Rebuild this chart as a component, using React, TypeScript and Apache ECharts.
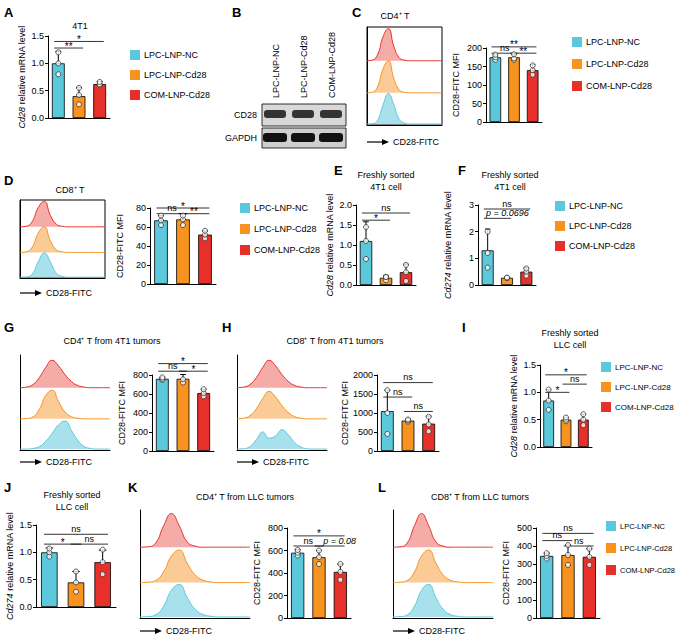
import * as echarts from "echarts";
import { useEffect, useRef } from "react";

const groups = ["LPC-LNP-NC", "LPC-LNP-Cd28", "COM-LNP-Cd28"];
const colors = ["#5cc8dc", "#f7931e", "#e8302a"];
const fills = ["#9fdeea", "#f9c58c", "#f4a3a0"];

// bar panels: means, sd, dots, brackets [from, to, y, label]
const aMeans = [1.0, 0.4, 0.62];
const aSd = [0.22, 0.16, 0.05];
const aDots = [[1.2, 1.0, 0.8], [0.55, 0.42, 0.25], [0.6, 0.62, 0.66]];
const aBrackets: [number, number, number, string][] = [[0, 1, 1.28, "**"], [0, 2, 1.4, "*"]];

const cMeans = [175, 175, 140];
const cSd = [8, 8, 15];
const cDots = [[168, 175, 182], [168, 172, 183], [128, 140, 153]];
const cBrackets: [number, number, number, string][] = [[0, 1, 186, "ns"], [1, 2, 186, "**"], [0, 2, 203, "**"]];

const dMeans = [67, 68, 52];
const dSd = [5, 6, 4];
const dDots = [[62, 67, 72], [62, 68, 72], [48, 52, 56]];
const dBrackets: [number, number, number, string][] = [[0, 1, 74, "ns"], [1, 2, 74, "**"], [0, 2, 80, "*"]];

const eMeans = [1.1, 0.18, 0.32];
const eSd = [0.48, 0.06, 0.2];
const eDots = [[1.45, 1.1, 0.65], [0.12, 0.2, 0.2], [0.1, 0.32, 0.5]];
const eBrackets: [number, number, number, string][] = [[0, 1, 1.62, "*"], [0, 2, 1.8, "ns"]];

const fMeans = [1.3, 0.27, 0.5];
const fSd = [0.8, 0.03, 0.15];
const fDots = [[2.0, 1.2, 0.65], [0.26, 0.27, 0.28], [0.35, 0.5, 0.62]];
const fBrackets: [number, number, number, string][] = [[0, 1, 2.5, "p = 0.0696"], [0, 2, 2.85, "ns"]];

const gMeans = [760, 760, 610];
const gSd = [15, 45, 40];
const gDots = [[748, 760, 775], [720, 755, 805], [575, 610, 650]];
const gBrackets: [number, number, number, string][] = [[0, 1, 840, "ns"], [1, 2, 840, "*"], [0, 2, 920, "*"]];

const hMeans = [1050, 800, 720];
const hSd = [550, 40, 200];
const hDots = [[1600, 1000, 450], [770, 800, 830], [520, 700, 900]];
const hBrackets: [number, number, number, string][] = [[0, 1, 1420, "ns"], [1, 2, 1040, "ns"], [0, 2, 1800, "ns"]];

const iMeans = [0.85, 0.5, 0.5];
const iSd = [0.2, 0.04, 0.1];
const iDots = [[1.05, 0.85, 0.68], [0.47, 0.5, 0.54], [0.4, 0.5, 0.6]];
const iBrackets: [number, number, number, string][] = [[0, 1, 1.0, "*"], [1, 2, 1.15, "ns"], [0, 2, 1.32, "*"]];

const jMeans = [1.0, 0.45, 0.82];
const jSd = [0.08, 0.2, 0.22];
const jDots = [[0.92, 1.0, 1.07], [0.28, 0.45, 0.65], [0.6, 0.82, 1.05]];
const jBrackets: [number, number, number, string][] = [[0, 1, 1.15, "*"], [1, 2, 1.15, "ns"], [0, 2, 1.33, "ns"]];

const kMeans = [580, 540, 410];
const kSd = [30, 60, 70];
const kDots = [[555, 580, 605], [480, 540, 600], [340, 410, 480]];
const kBrackets: [number, number, number, string][] = [[0, 1, 640, "ns"], [1, 2, 640, "p = 0.08"], [0, 2, 730, "*"]];

const lMeans = [345, 350, 340];
const lSd = [15, 55, 45];
const lDots = [[330, 345, 360], [295, 350, 405], [295, 340, 385]];
const lBrackets: [number, number, number, string][] = [[0, 1, 430, "ns"], [1, 2, 400, "ns"], [0, 2, 470, "ns"]];

// flow histograms (heights per channel, 15 bins)
const narrowPeak = [0, 0.02, 0.2, 0.75, 1.0, 0.45, 0.1, 0.02, 0, 0, 0, 0, 0, 0, 0];
const narrowPeakB = [0, 0.01, 0.12, 0.6, 0.95, 0.6, 0.15, 0.03, 0, 0, 0, 0, 0, 0, 0];
const midPeak = [0, 0.01, 0.06, 0.3, 0.75, 0.92, 0.55, 0.22, 0.07, 0.02, 0, 0, 0, 0, 0];
const broadPeak = [0, 0.02, 0.1, 0.32, 0.65, 0.88, 0.7, 0.42, 0.2, 0.07, 0.02, 0, 0, 0, 0];
const shiftedPeak = [0, 0, 0.02, 0.08, 0.25, 0.5, 0.78, 0.9, 0.6, 0.28, 0.08, 0.02, 0, 0, 0];
const doublePeak = [0, 0.01, 0.08, 0.3, 0.55, 0.35, 0.42, 0.62, 0.45, 0.2, 0.06, 0.01, 0, 0, 0];

type BarPanel = {
  rect: { left: number; top: number; width: number; height: number };
  max: number; interval: number; digits: number; name: string;
  means: number[]; sd: number[]; dots: number[][]; brackets: [number, number, number, string][];
};

const barPanels: BarPanel[] = [
  { rect: { left: 48, top: 36, width: 62, height: 82 }, max: 1.5, interval: 0.5, digits: 1, name: "{i|Cd28} relative mRNA level", means: aMeans, sd: aSd, dots: aDots, brackets: aBrackets },
  { rect: { left: 486, top: 48, width: 56, height: 74 }, max: 200, interval: 50, digits: 0, name: "CD28-FITC MFI", means: cMeans, sd: cSd, dots: cDots, brackets: cBrackets },
  { rect: { left: 150, top: 208, width: 66, height: 76 }, max: 80, interval: 20, digits: 0, name: "CD28-FITC MFI", means: dMeans, sd: dSd, dots: dDots, brackets: dBrackets },
  { rect: { left: 356, top: 205, width: 60, height: 80 }, max: 2, interval: 0.5, digits: 1, name: "{i|Cd28} relative mRNA level", means: eMeans, sd: eSd, dots: eDots, brackets: eBrackets },
  { rect: { left: 478, top: 205, width: 58, height: 80 }, max: 3, interval: 1, digits: 0, name: "{i|Cd274} relative mRNA level", means: fMeans, sd: fSd, dots: fDots, brackets: fBrackets },
  { rect: { left: 152, top: 375, width: 62, height: 76 }, max: 800, interval: 200, digits: 0, name: "CD28-FITC MFI", means: gMeans, sd: gSd, dots: gDots, brackets: gBrackets },
  { rect: { left: 377, top: 375, width: 62, height: 76 }, max: 2000, interval: 500, digits: 0, name: "CD28-FITC MFI", means: hMeans, sd: hSd, dots: hDots, brackets: hBrackets },
  { rect: { left: 540, top: 365, width: 52, height: 82 }, max: 1.5, interval: 0.5, digits: 1, name: "{i|Cd28} relative mRNA level", means: iMeans, sd: iSd, dots: iDots, brackets: iBrackets },
  { rect: { left: 36, top: 525, width: 80, height: 82 }, max: 1.5, interval: 0.5, digits: 1, name: "{i|Cd274} relative mRNA level", means: jMeans, sd: jSd, dots: jDots, brackets: jBrackets },
  { rect: { left: 287, top: 528, width: 64, height: 90 }, max: 800, interval: 200, digits: 0, name: "CD28-FITC MFI", means: kMeans, sd: kSd, dots: kDots, brackets: kBrackets },
  { rect: { left: 536, top: 528, width: 64, height: 90 }, max: 500, interval: 100, digits: 0, name: "CD28-FITC MFI", means: lMeans, sd: lSd, dots: lDots, brackets: lBrackets },
];

type HistPanel = { rect: { left: number; top: number; width: number; height: number }; box: boolean; curves: number[][] };
const histPanels: HistPanel[] = [
  { rect: { left: 367, top: 27, width: 75, height: 98 }, box: true, curves: [narrowPeakB, narrowPeak, narrowPeak] },
  { rect: { left: 20, top: 200, width: 85, height: 78 }, box: true, curves: [narrowPeakB, narrowPeak, narrowPeak] },
  { rect: { left: 20, top: 355, width: 90, height: 95 }, box: false, curves: [shiftedPeak, midPeak, broadPeak] },
  { rect: { left: 237, top: 355, width: 90, height: 95 }, box: false, curves: [doublePeak, broadPeak, broadPeak] },
  { rect: { left: 140, top: 510, width: 110, height: 108 }, box: false, curves: [midPeak, midPeak, narrowPeakB] },
  { rect: { left: 393, top: 510, width: 100, height: 108 }, box: false, curves: [midPeak, midPeak, narrowPeakB] },
];

const FONT = "Liberation Sans, Arial, sans-serif";

function txt(x: number, y: number, text: string, size = 9, extra: any = {}) {
  return { type: "text", x, y, style: { text, font: `${extra.weight ?? "normal"} ${size}px ${FONT}`, fill: "#000", align: extra.align ?? "left", verticalAlign: "middle", ...extra.style }, rotation: extra.rotation ?? 0 };
}

function legend(x: number, y: number, gap: number, size = 9) {
  return groups.flatMap((g, i) => [
    { type: "rect", shape: { x, y: y + i * gap - 5, width: 10, height: 10 }, style: { fill: colors[i] } },
    txt(x + 14, y + i * gap, g, size),
  ]);
}

function flowLabel(x: number, y: number) {
  return [
    { type: "line", shape: { x1: x, y1: y, x2: x + 18, y2: y }, style: { stroke: "#000", lineWidth: 1.2 } },
    { type: "polygon", shape: { points: [[x + 22, y], [x + 15, y - 3], [x + 15, y + 3]] }, style: { fill: "#000" } },
    txt(x + 26, y, "CD28-FITC", 9),
  ];
}

function buildOption() {
  const grid: any[] = [];
  const xAxis: any[] = [];
  const yAxis: any[] = [];
  const series: any[] = [];

  barPanels.forEach((p) => {
    const idx = grid.length;
    grid.push({ ...p.rect });
    xAxis.push({ type: "category", gridIndex: idx, data: groups, axisLabel: { show: false }, axisTick: { show: false }, axisLine: { lineStyle: { color: "#000" } } });
    yAxis.push({
      type: "value", gridIndex: idx, min: 0, max: p.max, interval: p.interval,
      name: p.name, nameLocation: "middle", nameGap: p.digits ? 22 : 26, nameRotate: 90,
      nameTextStyle: { fontSize: 9, fontFamily: FONT, color: "#000", rich: { i: { fontStyle: "italic", fontSize: 9, fontFamily: FONT } } },
      axisLine: { show: true, lineStyle: { color: "#000" } }, axisTick: { show: true, length: 3, lineStyle: { color: "#000" } },
      axisLabel: { fontSize: 9, fontFamily: FONT, color: "#000", margin: 4, formatter: (v: number) => v.toFixed(p.digits) },
      splitLine: { show: false },
    });
    series.push({
      type: "bar", xAxisIndex: idx, yAxisIndex: idx, barWidth: "62%",
      data: p.means.map((m, i) => ({ value: m, itemStyle: { color: colors[i], borderColor: "#000", borderWidth: 0.8 } })),
    });
    series.push({
      type: "custom", xAxisIndex: idx, yAxisIndex: idx, clip: false,
      data: p.means.map((m, i) => [i, m, p.sd[i]]),
      renderItem: (_: any, api: any) => {
        const i = api.value(0), m = api.value(1), s = api.value(2);
        const top = api.coord([i, m + s]);
        const bot = api.coord([i, Math.max(0, m - s)]);
        const w = api.size([1, 0])[0] * 0.14;
        const st = { stroke: "#000", lineWidth: 1 };
        return { type: "group", children: [
          { type: "line", shape: { x1: top[0], y1: top[1], x2: bot[0], y2: bot[1] }, style: st },
          { type: "line", shape: { x1: top[0] - w, y1: top[1], x2: top[0] + w, y2: top[1] }, style: st },
          { type: "line", shape: { x1: bot[0] - w, y1: bot[1], x2: bot[0] + w, y2: bot[1] }, style: st },
        ] };
      },
    });
    series.push({
      type: "scatter", xAxisIndex: idx, yAxisIndex: idx, symbolSize: 5,
      itemStyle: { color: "#fff", borderColor: "#333", borderWidth: 1 },
      data: p.dots.flatMap((ds, i) => ds.map((d) => [i, d])),
    });
    const labels = p.brackets.map((b) => b[3]);
    series.push({
      type: "custom", xAxisIndex: idx, yAxisIndex: idx, clip: false,
      data: p.brackets.map((b, k) => [b[0], b[1], b[2], k]),
      renderItem: (_: any, api: any) => {
        const a = api.coord([api.value(0), api.value(2)]);
        const b = api.coord([api.value(1), api.value(2)]);
        const w = api.size([1, 0])[0] * 0.2;
        const lab = labels[api.value(3)];
        const isP = lab.startsWith("p");
        const star = lab.includes("*");
        return { type: "group", children: [
          { type: "line", shape: { x1: a[0] - w, y1: a[1], x2: b[0] + w, y2: b[1] }, style: { stroke: "#000", lineWidth: 0.8 } },
          { type: "text", x: (a[0] + b[0]) / 2 + (isP ? 10 : 0), y: a[1] + (star ? 3 : -1), style: {
            text: lab, align: "center", verticalAlign: "bottom",
            font: `${isP ? "italic " : ""}${star ? 10 : 9}px ${FONT}`, fill: "#000",
          } },
        ] };
      },
    });
  });

  histPanels.forEach((h) => {
    const idx = grid.length;
    grid.push({ ...h.rect, show: h.box, borderColor: "#000", borderWidth: 1 });
    xAxis.push({ type: "value", gridIndex: idx, min: 0, max: 14, axisLabel: { show: false }, axisTick: { show: false }, splitLine: { show: false }, axisLine: { show: true, lineStyle: { color: "#000" } } });
    yAxis.push({ type: "value", gridIndex: idx, min: 0, max: 3.05, axisLabel: { show: false }, axisTick: { show: false }, splitLine: { show: false }, axisLine: { show: true, lineStyle: { color: "#000" } } });
    // top: red, middle: orange, bottom: blue
    [2, 1, 0].forEach((g) => {
      const base = g === 0 ? 0.03 : g;
      series.push({
        type: "line", xAxisIndex: idx, yAxisIndex: idx, smooth: true, symbol: "none",
        data: h.curves[g].map((v, i) => [i, base + v]),
        lineStyle: { color: colors[g], width: 1 },
        areaStyle: { origin: base, color: fills[g], opacity: 0.9 },
        z: 3 - g,
      });
    });
  });

  const blotX = [262, 290, 318];
  const graphic: any[] = [
    txt(4, 12, "A", 13, { weight: "bold" }), txt(80, 26, "4T1", 9, { align: "center" }),
    ...legend(130, 55, 20),
    txt(232, 12, "B", 13, { weight: "bold" }),
    ...groups.map((g, i) => txt(blotX[i] + 14, 98, g, 9, { rotation: Math.PI / 2, style: { align: "left" } })),
    { type: "rect", shape: { x: 262, y: 104, width: 84, height: 22 }, style: { fill: "#d8d8d8", stroke: "#000", lineWidth: 0.8 } },
    { type: "rect", shape: { x: 262, y: 128, width: 84, height: 20 }, style: { fill: "#cfcfcf", stroke: "#000", lineWidth: 0.8 } },
    ...blotX.map((x) => ({ type: "rect", shape: { x: x + 2, y: 110, width: 22, height: 8, r: 3 }, style: { fill: "#333" } })),
    ...blotX.map((x) => ({ type: "rect", shape: { x: x + 1, y: 133, width: 24, height: 9, r: 3 }, style: { fill: "#111" } })),
    txt(257, 115, "CD28", 9, { align: "right" }), txt(257, 138, "GAPDH", 9, { align: "right" }),
    txt(352, 12, "C", 13, { weight: "bold" }), txt(395, 16, "CD4⁺ T", 9, { align: "center" }),
    ...flowLabel(367, 142),
    ...legend(572, 42, 22),
    txt(4, 180, "D", 13, { weight: "bold" }), txt(70, 190, "CD8⁺ T", 9, { align: "center" }),
    ...flowLabel(20, 293),
    ...legend(240, 208, 21),
    txt(334, 170, "E", 13, { weight: "bold" }), txt(386, 175, "Freshly sorted", 9, { align: "center" }), txt(386, 187, "4T1 cell", 9, { align: "center" }),
    txt(458, 170, "F", 13, { weight: "bold" }), txt(510, 175, "Freshly sorted", 9, { align: "center" }), txt(510, 187, "4T1 cell", 9, { align: "center" }),
    ...legend(555, 206, 20),
    txt(4, 327, "G", 13, { weight: "bold" }), txt(112, 341, "CD4⁺ T from 4T1 tumors", 9, { align: "center" }),
    ...flowLabel(20, 462),
    txt(222, 327, "H", 13, { weight: "bold" }), txt(335, 341, "CD8⁺ T from 4T1 tumors", 9, { align: "center" }),
    ...flowLabel(237, 462),
    txt(462, 327, "I", 13, { weight: "bold" }), txt(570, 333, "Freshly sorted", 9, { align: "center" }), txt(570, 345, "LLC cell", 9, { align: "center" }),
    ...legend(601, 367, 20, 8),
    txt(4, 487, "J", 13, { weight: "bold" }), txt(72, 495, "Freshly sorted", 9, { align: "center" }), txt(72, 507, "LLC cell", 9, { align: "center" }),
    txt(128, 487, "K", 13, { weight: "bold" }), txt(245, 497, "CD4⁺ T from LLC tumors", 9, { align: "center" }),
    ...flowLabel(140, 631),
    txt(378, 487, "L", 13, { weight: "bold" }), txt(480, 497, "CD8⁺ T from LLC tumors", 9, { align: "center" }),
    ...flowLabel(393, 631),
    ...legend(606, 526, 22, 7.5),
  ];

  return { animation: false, backgroundColor: "#fff", grid, xAxis, yAxis, series, graphic };
}

export default function App() {
  const ref = useRef<HTMLDivElement | null>(null);
  useEffect(() => {
    document.body.style.margin = "0";
    if (!ref.current) return;
    const chart = echarts.init(ref.current, undefined, { renderer: "svg" });
    chart.setOption(buildOption() as any);
    return () => chart.dispose();
  }, []);
  return <div ref={ref} style={{ width: 680, height: 643 }} />;
}
